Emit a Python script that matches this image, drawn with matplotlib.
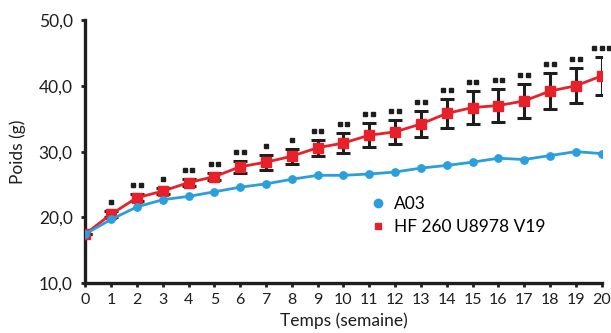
import numpy as np
import matplotlib
matplotlib.use("Agg")
import matplotlib.pyplot as plt
from matplotlib.transforms import ScaledTranslation

plt.rcParams['font.family'] = ['Lato', 'DejaVu Sans']

weeks = list(range(21))
a03 = [17.5, 19.7, 21.6, 22.7, 23.2, 23.9, 24.6, 25.1, 25.8, 26.4, 26.4,
       26.6, 26.9, 27.5, 27.9, 28.4, 29.0, 28.8, 29.4, 30.0, 29.7]
hf = [17.5, 20.5, 23.0, 24.0, 25.3, 26.2, 27.7, 28.4, 29.3, 30.6, 31.3,
      32.5, 33.0, 34.2, 35.8, 36.7, 37.0, 37.7, 39.2, 40.0, 41.5]
hf_err = [0.0, 0.5, 0.5, 0.5, 0.5, 0.5, 0.95, 1.15, 1.15, 1.22, 1.57,
          1.83, 1.85, 1.98, 2.23, 2.44, 2.46, 2.59, 2.71, 2.66, 2.84]
stars = [0, 1, 2, 1, 2, 2, 2, 1, 1, 2, 2, 2, 2, 2, 2, 2, 2, 2, 2, 2, 3]
yticks = [10, 20, 30, 40, 50]
ytick_labels = ["10,0", "20,0", "30,0", "40,0", "50,0"]

blue = "#2a9fdb"
red = "#e8202a"
ink = "#1e1e1e"

fig = plt.figure(figsize=(6.11, 3.33), dpi=100)
ax = fig.add_axes([0.1396, 0.1493, 0.845, 0.7907])

ax.errorbar(weeks, hf, yerr=hf_err, fmt='none', ecolor=ink, elinewidth=2.2,
            capsize=5.3, capthick=2.2, zorder=2)
ax.plot(weeks, hf, color=red, lw=2.0, marker='s', ms=7.8, mec=red, mfc=red,
        zorder=3, label="HF 260 U8978 V19")
ax.plot(weeks, a03, color=blue, lw=2.0, marker='o', ms=5.3, mec=blue, mfc=blue,
        zorder=4, label="A03")

# significance markers above each error bar
for x, m, e, n in zip(weeks, hf, hf_err, stars):
    for k in range(n):
        dx = (k - (n - 1) / 2) * 7.6 / 100
        tr = ax.transData + ScaledTranslation(dx, 9 / 100, fig.dpi_scale_trans)
        ax.plot([x], [m + e], marker='s', ms=3.0, color=ink, mec=ink,
                transform=tr, clip_on=False, zorder=5)

ax.set_xlim(0, 20)
ax.set_ylim(10, 50)
ax.set_xticks(weeks)
ax.set_yticks(yticks)
ax.set_yticklabels(ytick_labels)
ax.tick_params(axis='both', direction='out', length=3, width=2, color=ink,
               labelcolor=ink)
ax.tick_params(axis='y', labelsize=12.5, pad=6)
ax.tick_params(axis='x', labelsize=11.5, pad=4)

for side in ['top', 'right']:
    ax.spines[side].set_visible(False)
for side in ['left', 'bottom']:
    ax.spines[side].set_linewidth(2.4)
    ax.spines[side].set_color(ink)

ax.set_xlabel("Temps (semaine)", fontsize=12.5, color=ink, labelpad=4)
ax.set_ylabel("Poids (g)", fontsize=12.5, color=ink, labelpad=9)

handles, labels = ax.get_legend_handles_labels()
leg = ax.legend(handles[::-1], labels[::-1], loc='upper left',
                bbox_to_anchor=(0.544, 0.357), frameon=False, fontsize=12.5,
                handlelength=0.6, handletextpad=0.6, labelspacing=0.4,
                borderaxespad=0)
for h, s in zip(leg.legend_handles, [6.0, 5.0]):
    h.set_linestyle('none')
    h.set_markersize(s)

fig.savefig("out.png", dpi=100)
